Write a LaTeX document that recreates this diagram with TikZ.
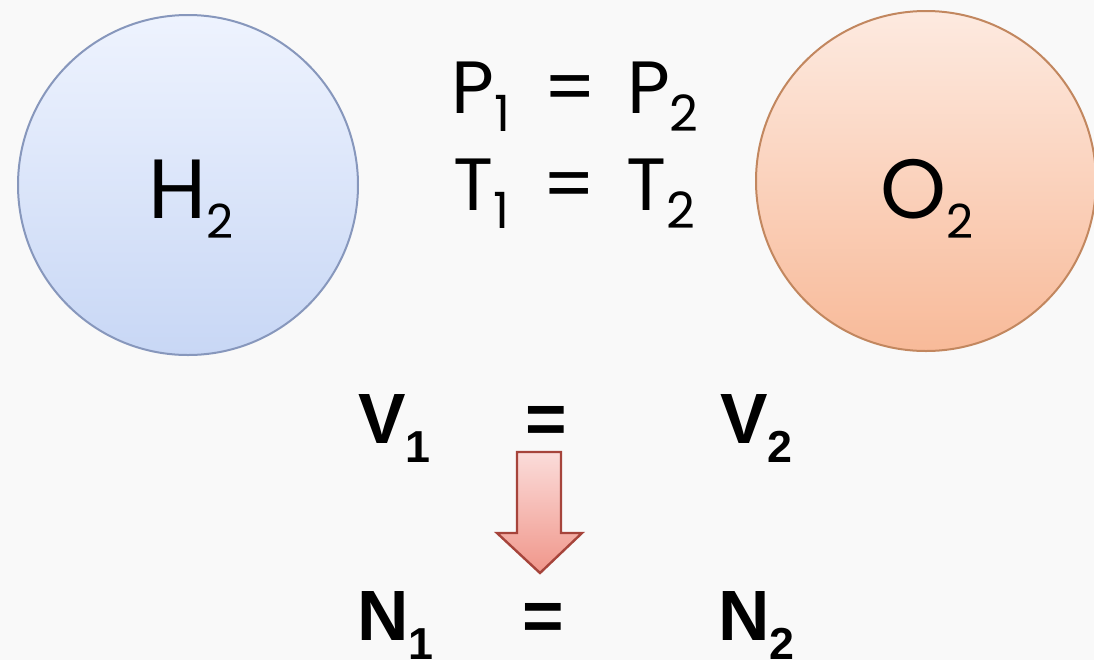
\documentclass[tikz,border=0pt]{standalone}
\usepackage{fontspec}
\setmainfont{Poppins}
\newfontfamily\arial{Liberation Sans}
\usetikzlibrary{positioning, calc}
\definecolor{htop}{HTML}{EEF3FE}
\definecolor{hbot}{HTML}{C8D7F5}
\definecolor{hedge}{HTML}{8797BC}
\definecolor{otop}{HTML}{FDEAE0}
\definecolor{obot}{HTML}{F8BA99}
\definecolor{oedge}{HTML}{C2875F}
\definecolor{arrowtop}{HTML}{FBDCDA}
\definecolor{arrowbot}{HTML}{F0968A}
\definecolor{arrowedge}{HTML}{A6443B}
\definecolor{paper}{HTML}{F9F9F9}
\tikzset{
    gas/.style={
        circle, inner sep=0pt, minimum size=170pt, line width=1pt
    },
    hgas/.style={gas, draw=hedge, top color=htop, bottom color=hbot},
    ogas/.style={gas, draw=oedge, top color=otop, bottom color=obot},
    formula/.style={
        inner sep=0pt, anchor=base west,
        font=\fontsize{42}{42}\selectfont
    },
    cond/.style={
        inner sep=0pt, anchor=base,
        font=\fontsize{37}{37}\selectfont
    },
    term/.style={
        inner sep=0pt, anchor=base west,
        font=\arial\bfseries\fontsize{35.6}{36}\selectfont
    },
    eqsign/.style={term, anchor=base},
    blockarrow/.style={
        draw=arrowedge, line width=1.2pt, line join=miter,
        top color=arrowtop, bottom color=arrowbot
    }
}
\newcommand{\gsub}[1]{\raisebox{-10pt}{\fontsize{23.5}{24}\selectfont #1}}
\newcommand{\csub}[1]{\raisebox{-9pt}{\fontsize{25}{25}\selectfont #1}}
\newcommand{\vsub}[1]{\raisebox{-9.5pt}{\fontsize{22.4}{23}\selectfont #1}}

\begin{document}
\begin{tikzpicture}[x=0.5pt, y=-0.5pt]
    \fill[paper] (0,0) rectangle (1094,660);
    \useasboundingbox (0,0) rectangle (1094,660);

    % the two gases
    \node[hgas] (hyd) at (188,185) {};
    \node[ogas] (oxy) at (926,181) {};
    \node[formula] (hydname) at (148,218) {H\gsub{2}};
    \node[formula] (oxyname) at (880,218) {O\gsub{2}};

    % same pressure and temperature
    \node[cond] (pres) at (575,113) {P\csub{1}\hspace{7pt} = \hspace{5pt}P\csub{2}};
    \node[cond] (temp) at (574,210) {T\csub{1}\hspace{7pt} = \hspace{5pt}T\csub{2}};

    % equal volumes
    \node[term] (vleft) at (358,443) {V\vsub{1}};
    \node[eqsign] (veq) at (546,443) {=};
    \node[term] (vright) at (720,443) {V\vsub{2}};

    % equal amounts
    \node[term] (nleft) at (357,640) {N\vsub{1}};
    \node[eqsign] (neq) at (543,640) {=};
    \node[term] (nright) at (718,640) {N\vsub{2}};

    \draw[blockarrow] (517,452) -- (561,452) -- (561,533) -- (582,533)
        -- (540,573) -- (497,533) -- (517,533) -- cycle;
\end{tikzpicture}
\end{document}
